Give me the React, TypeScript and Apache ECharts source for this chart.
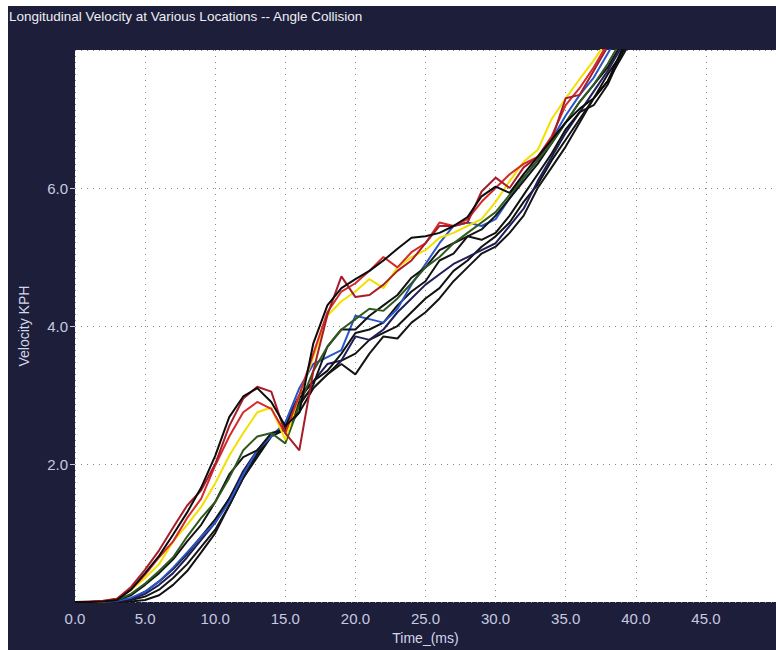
import React, { useEffect, useRef } from "react";
import * as echarts from "echarts";

const timeMs = [0, 1, 2, 3, 4, 5, 6, 7, 8, 9, 10, 11, 12, 13, 14, 15, 16, 17, 18, 19, 20, 21, 22, 23, 24, 25, 26, 27, 28, 29, 30, 31, 32, 33, 34, 35, 36, 37, 38, 39, 40];

const blackA = [0, 0, 0.01, 0.03, 0.18, 0.42, 0.67, 0.98, 1.3, 1.66, 2.12, 2.68, 2.98, 3.1, 2.9, 2.55, 2.75, 3.75, 4.3, 4.55, 4.68, 4.8, 4.95, 5.12, 5.28, 5.3, 5.35, 5.45, 5.58, 5.88, 6.02, 5.93, 6.2, 6.45, 6.7, 6.95, 7.15, 7.3, 7.55, 8.0, 8.4];
const blackB = [0, 0, 0, 0.03, 0.1, 0.25, 0.42, 0.62, 0.88, 1.12, 1.45, 1.85, 2.1, 2.2, 2.45, 2.5, 2.85, 3.15, 3.7, 3.95, 3.95, 4.15, 4.3, 4.45, 4.7, 4.85, 5.1, 5.2, 5.3, 5.4, 5.6, 5.85, 6.1, 6.35, 6.65, 6.95, 7.25, 7.5, 7.75, 8.1, 8.45];
const blackC = [0, 0, 0, 0.02, 0.05, 0.15, 0.3, 0.48, 0.7, 0.95, 1.2, 1.5, 1.85, 2.15, 2.4, 2.55, 2.95, 3.2, 3.35, 3.6, 3.9, 3.95, 4.05, 4.3, 4.5, 4.65, 4.95, 5.05, 5.3, 5.25, 5.35, 5.6, 5.9, 6.2, 6.5, 6.85, 7.1, 7.2, 7.5, 7.95, 8.3];
const blackD = [0, 0, 0, 0.01, 0.03, 0.08, 0.18, 0.35, 0.55, 0.8, 1.05, 1.4, 1.8, 2.15, 2.4, 2.55, 2.9, 3.1, 3.3, 3.45, 3.3, 3.6, 3.85, 3.82, 4.05, 4.2, 4.4, 4.65, 4.85, 5.05, 5.15, 5.35, 5.6, 6.0, 6.3, 6.6, 6.95, 7.3, 7.55, 7.9, 8.25];
const blackE = [0, 0, 0, 0, 0.01, 0.03, 0.1, 0.25, 0.45, 0.72, 1.0, 1.4, 1.8, 2.1, 2.4, 2.5, 2.75, 3.1, 3.3, 3.5, 3.6, 3.8, 3.9, 4.0, 4.2, 4.4, 4.55, 4.8, 4.95, 5.15, 5.3, 5.5, 5.8, 6.05, 6.4, 6.7, 7.0, 7.3, 7.65, 7.95, 8.3];
const navy = [0, 0, 0, 0.01, 0.04, 0.12, 0.25, 0.42, 0.65, 0.9, 1.15, 1.5, 1.9, 2.2, 2.4, 2.6, 3.0, 3.2, 3.45, 3.5, 3.85, 3.8, 3.95, 4.2, 4.4, 4.6, 4.75, 4.9, 5.0, 5.1, 5.2, 5.45, 5.7, 6.1, 6.45, 6.8, 7.1, 7.4, 7.7, 8.05, 8.4];
const darkRed = [0, 0.01, 0.02, 0.05, 0.22, 0.47, 0.75, 1.08, 1.4, 1.62, 2.0, 2.55, 2.95, 3.12, 3.05, 2.45, 2.2, 3.35, 4.16, 4.72, 4.42, 4.45, 4.6, 4.8, 4.95, 5.2, 5.45, 5.45, 5.5, 5.95, 6.15, 6.0, 6.3, 6.45, 6.7, 7.3, 7.35, 7.7, 8.05, 8.4, 8.8];
const redB = [0, 0, 0.01, 0.05, 0.18, 0.4, 0.65, 0.88, 1.22, 1.5, 1.98, 2.4, 2.75, 2.9, 2.8, 2.45, 3.0, 3.6, 4.2, 4.5, 4.62, 4.8, 5.0, 4.85, 5.07, 5.2, 5.5, 5.45, 5.55, 5.8, 6.0, 6.2, 6.35, 6.45, 6.75, 7.2, 7.45, 7.75, 8.1, 8.5, 8.9];
const yellow = [0, 0, 0.01, 0.05, 0.18, 0.35, 0.55, 0.88, 1.12, 1.38, 1.72, 2.12, 2.45, 2.75, 2.82, 2.35, 3.0, 3.55, 4.15, 4.36, 4.5, 4.68, 4.55, 4.85, 5.0, 5.1, 5.28, 5.35, 5.45, 5.55, 5.8, 6.1, 6.38, 6.55, 7.0, 7.3, 7.58, 7.85, 8.15, 8.5, 8.9];
const green = [0, 0, 0, 0.03, 0.12, 0.27, 0.45, 0.65, 0.95, 1.22, 1.45, 1.8, 2.2, 2.4, 2.45, 2.3, 2.85, 3.35, 3.7, 3.95, 4.1, 4.25, 4.22, 4.4, 4.62, 4.85, 5.0, 5.2, 5.35, 5.5, 5.65, 5.9, 6.15, 6.4, 6.65, 6.95, 7.25, 7.5, 7.8, 8.15, 8.5];
const blue = [0, 0, 0, 0.02, 0.06, 0.15, 0.3, 0.5, 0.72, 0.95, 1.15, 1.45, 1.85, 2.2, 2.4, 2.6, 3.1, 3.45, 3.55, 3.65, 4.15, 4.1, 4.05, 4.25, 4.6, 4.9, 5.2, 5.45, 5.5, 5.45, 5.55, 5.85, 6.15, 6.4, 6.7, 7.05, 7.35, 7.6, 7.95, 8.3, 8.7];

const seriesList: { name: string; values: number[]; color: string }[] = [
  { name: "Loc 1", values: blackE, color: "#111111" },
  { name: "Loc 2", values: blackD, color: "#151515" },
  { name: "Loc 3", values: navy, color: "#1e1e5c" },
  { name: "Loc 4", values: blackC, color: "#121212" },
  { name: "Loc 5", values: blue, color: "#2a55c8" },
  { name: "Loc 6", values: blackB, color: "#141414" },
  { name: "Loc 7", values: green, color: "#2f5a1f" },
  { name: "Loc 8", values: yellow, color: "#f2e000" },
  { name: "Loc 9", values: redB, color: "#d42a2a" },
  { name: "Loc 10", values: darkRed, color: "#a81c2a" },
  { name: "Loc 11", values: blackA, color: "#0c0c0c" },
];

const TITLE = "Longitudinal Velocity at Various Locations -- Angle Collision";
const X_NAME = "Time_(ms)";
const Y_NAME = "Velocity KPH";

export default function App() {
  const ref = useRef<HTMLDivElement>(null);
  useEffect(() => {
    if (!ref.current) return;
    const chart = echarts.init(ref.current, undefined, { renderer: "svg" });
    const font = "'Liberation Sans', Arial, sans-serif";
    chart.setOption({
      animation: false,
      backgroundColor: "#1c1e3a",
      textStyle: { fontFamily: font },
      title: {
        text: TITLE,
        left: 1,
        top: 3,
        padding: 0,
        textStyle: { color: "#eeeef4", fontSize: 13.5, fontWeight: "normal", fontFamily: font },
      },
      grid: {
        left: 67,
        right: 0,
        top: 44,
        bottom: 42,
        show: true,
        backgroundColor: "#ffffff",
        borderWidth: 0,
      },
      xAxis: {
        type: "value",
        min: 0,
        max: 50,
        interval: 5,
        name: X_NAME,
        nameLocation: "middle",
        nameGap: 27,
        nameTextStyle: { color: "#d4d6ea", fontSize: 14 },
        axisLine: { show: false },
        axisTick: { show: false },
        axisLabel: {
          color: "#c8cae0",
          fontSize: 15,
          margin: 9,
          showMaxLabel: false,
          formatter: (v: number) => v.toFixed(1),
        },
        splitLine: { show: true, lineStyle: { color: "#8a8a8a", width: 1, type: [1, 5] } },
      },
      yAxis: {
        type: "value",
        min: 0,
        max: 8,
        interval: 2,
        name: Y_NAME,
        nameLocation: "middle",
        nameGap: 44,
        nameTextStyle: { color: "#d4d6ea", fontSize: 14 },
        axisLine: { show: false },
        axisTick: { show: true, length: 5, lineStyle: { color: "#c8cae0" } },
        axisLabel: {
          color: "#c8cae0",
          fontSize: 15,
          margin: 7,
          showMinLabel: false,
          showMaxLabel: false,
          formatter: (v: number) => v.toFixed(1),
        },
        splitLine: { show: true, lineStyle: { color: "#8a8a8a", width: 1, type: [1, 5] } },
      },
      series: seriesList.map((s) => ({
        name: s.name,
        type: "line",
        data: timeMs.map((t, i) => [t, s.values[i]]),
        showSymbol: false,
        symbol: "none",
        clip: true,
        lineStyle: { color: s.color, width: 2 },
        itemStyle: { color: s.color },
      })),
    });
    return () => chart.dispose();
  }, []);
  return (
    <div
      ref={ref}
      style={{ position: "absolute", left: 8, top: 6, width: 768, height: 644 }}
    />
  );
}
